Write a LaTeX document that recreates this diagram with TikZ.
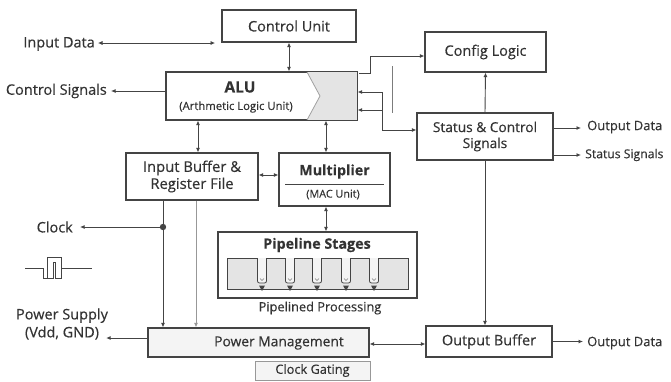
\documentclass[tikz,border=0pt]{standalone}
\usepackage{fontspec}
\setmainfont{Open Sans}[FakeBold=0.35]
\usetikzlibrary{arrows.meta}
\definecolor{ink}{HTML}{333333}
\definecolor{edge}{HTML}{444444}
\definecolor{shadegray}{HTML}{E4E4E4}
\definecolor{pale}{HTML}{F4F4F4}
\tikzset{
  blk/.style={draw=edge, line width=1.1pt, fill=white, inner sep=0pt, text=ink, align=center, font=\fontsize{14.5}{16}\selectfont},
  lbl/.style={text=ink, inner sep=0pt, font=\fontsize{14.5}{16}\selectfont},
  rlbl/.style={text=ink, inner sep=0pt, font=\fontsize{13}{15}\selectfont},
  conn/.style={draw=edge, line width=0.9pt, -{Latex[length=4.5pt,width=4pt]}},
  conn2/.style={draw=edge, line width=0.9pt, {Latex[length=4.5pt,width=4pt]}-{Latex[length=4.5pt,width=4pt]}},
}
\begin{document}
\begin{tikzpicture}[x=1pt,y=-1pt]
\useasboundingbox (0,0) rectangle (671,381);
\fill[white] (0,0) rectangle (671,381);

% blocks
\node[blk, minimum width=134pt, minimum height=32pt] (cu) at (289,26) {Control Unit};
\node[blk, minimum width=191pt, minimum height=48pt] (alu) at (261.5,96) {};
\fill[shadegray] (307,72) -- (320,96) -- (307,120) -- (357,120) -- (357,72) -- cycle;
\draw[edge!50, line width=0.8pt] (307,72) -- (320,96) -- (307,120);
\draw[edge, line width=1.1pt] (alu.north west) rectangle (alu.south east);
\node[text=ink, inner sep=0pt, font=\bfseries\fontsize{15.5}{17}\selectfont] (alut) at (240,87) {ALU};
\node[text=ink, inner sep=0pt, font=\fontsize{11.3}{13}\selectfont] (alus) at (236,107) {(Arthmetic Logic Unit)};

\node[blk, minimum width=121pt, minimum height=40pt] (cfg) at (485.5,52) {Config Logic};
\node[blk, minimum width=136pt, minimum height=47pt, font=\fontsize{13.7}{16}\selectfont] (stat) at (485,136.5) {Status \& Control\\Signals};
\node[blk, minimum width=132pt, minimum height=47pt, font=\fontsize{14.8}{17}\selectfont] (ib) at (192,176.5) {Input Buffer \&\\Register File};
\node[blk, minimum width=111pt, minimum height=53pt] (mul) at (334.5,179.5) {};
\node[text=ink, inner sep=0pt, font=\bfseries\fontsize{14.3}{16}\selectfont] (mult) at (334.5,171.5) {Multiplier};
\draw[edge, line width=0.8pt] (285,184) -- (384,184);
\node[text=ink, inner sep=0pt, font=\fontsize{10.8}{12}\selectfont] (muls) at (333,194.5) {(MAC Unit)};

\node[blk, minimum width=199pt, minimum height=66pt] (pipe) at (317.5,265) {};
\node[text=ink, inner sep=0pt, font=\bfseries\fontsize{14.3}{16}\selectfont] (pipet) at (317,245) {Pipeline Stages};
\node[draw=edge, line width=0.9pt, fill=shadegray, minimum width=181pt, minimum height=31pt, inner sep=0pt] (bar) at (317.5,273.5) {};
\foreach \cx in {262,290,317,346,374}{
  \draw[edge, line width=0.8pt, fill=pale, rounded corners=2pt] (\cx-4.5,258) -- (\cx-4.5,283) -- (\cx+4.5,283) -- (\cx+4.5,258);
  \draw[edge!70, line width=0.5pt] (\cx-2,278.5) -- (\cx,280.5) -- (\cx+2,278.5);
  \fill[edge] (\cx-3,285.5) -- (\cx+3,285.5) -- (\cx,291) -- cycle;
}
\node[text=ink, inner sep=0pt, font=\fontsize{12.8}{15}\selectfont] (pproc) at (320,308) {Pipelined Processing};

\node[blk, fill=pale, minimum width=221pt, minimum height=29pt] (pm) at (258.5,342.5) {};
\node[text=ink, inner sep=0pt, font=\fontsize{13.8}{15}\selectfont] (pmt) at (279,343) {Power Management};
\node[blk, draw=edge!55, line width=0.8pt, fill=pale, minimum width=115pt, minimum height=19pt, font=\fontsize{12.8}{14}\selectfont] (cg) at (312.5,370.5) {Clock Gating};
\node[blk, minimum width=126pt, minimum height=31pt] (ob) at (489,341.5) {Output Buffer};

% outside labels
\node[lbl, anchor=east] (idata) at (95,44) {Input Data};
\node[lbl, anchor=east] (csig) at (107,91) {Control Signals};
\node[lbl, anchor=east] (clk) at (73,227) {Clock};
\node[lbl, align=center, font=\fontsize{14.5}{18}\selectfont] (psup) at (62,324) {Power Supply\\(Vdd, GND)};
\node[rlbl, anchor=west] (od1) at (587,127) {Output Data};
\node[rlbl, anchor=west, font=\fontsize{12.2}{14}\selectfont] (ssig) at (585,155) {Status Signals};
\node[rlbl, anchor=west] (od2) at (587,343) {Output Data};

% clock waveform
\draw[edge, line width=0.9pt] (25,268) -- (43,268);
\draw[edge, line width=0.9pt] (43,268) -- (43,278) -- (47,278) -- (47,257) -- (61,257) -- (61,278) -- (55,278) -- (55,262) -- (53,262) -- (53,278) -- (43,278);
\draw[edge, line width=0.9pt] (61,268) -- (92,268);

% connectors
\coordinate (idEnd) at (215,43);
\draw[conn2, line width=0.7pt] ([xshift=3pt]idata.east |- 0,43) -- (idEnd);
\draw[conn2] (cu.south) -- (cu.south |- alu.north);
\draw[conn] (alu.west |- 0,91) -- ([xshift=4pt]csig.east);
\draw[conn] (359,73) -- (370,73) -- (370,56) -- (cfg.west |- 0,56);
\draw[edge!70, line width=1pt] (392,66) -- (392,113);
\coordinate (jn) at (382,92);
\draw[conn] (jn) -- (alu.east |- jn);
\draw[conn] (jn) -- (382,130) -- (stat.west |- 0,130);
\draw[conn] (382,110) -- (alu.east |- 0,110);
\draw[conn] (stat.north) -- (cfg.south);
\draw[conn] (stat.east |- 0,128) -- ([xshift=-6pt]od1.west |- 0,128);
\draw[conn] (stat.east |- 0,155) -- ([xshift=-4pt]ssig.west |- 0,155);
\draw[conn] (stat.south) -- (stat.south |- ob.north);
\draw[conn] (ob.east) -- ([xshift=-4pt]od2.west |- ob.east);
\draw[conn2] (pm.east |- 0,344) -- (ob.west |- 0,344);
\draw[conn] (pm.west |- 0,338) -- ([xshift=-2pt]psup.east |- 0,338);
\coordinate (dot) at (163,227);
\draw[conn] (ib.south -| dot) -- (pm.north -| dot);
\fill[edge] (dot) circle (3.2pt);
\draw[conn] (dot) -- ([xshift=7pt]clk.east |- dot);
\draw[conn, draw=edge!55] (ib.south -| 196,0) -- (pm.north -| 196,0);
\draw[conn2] (alu.south -| 198,0) -- (ib.north -| 198,0);
\draw[conn2] (alu.south -| 326,0) -- (mul.north -| 326,0);
\draw[conn2] (ib.east |- 0,175) -- (mul.west |- 0,175);
\draw[conn2] (mul.south -| 326,0) -- (pipe.north -| 326,0);
\end{tikzpicture}
\end{document}
